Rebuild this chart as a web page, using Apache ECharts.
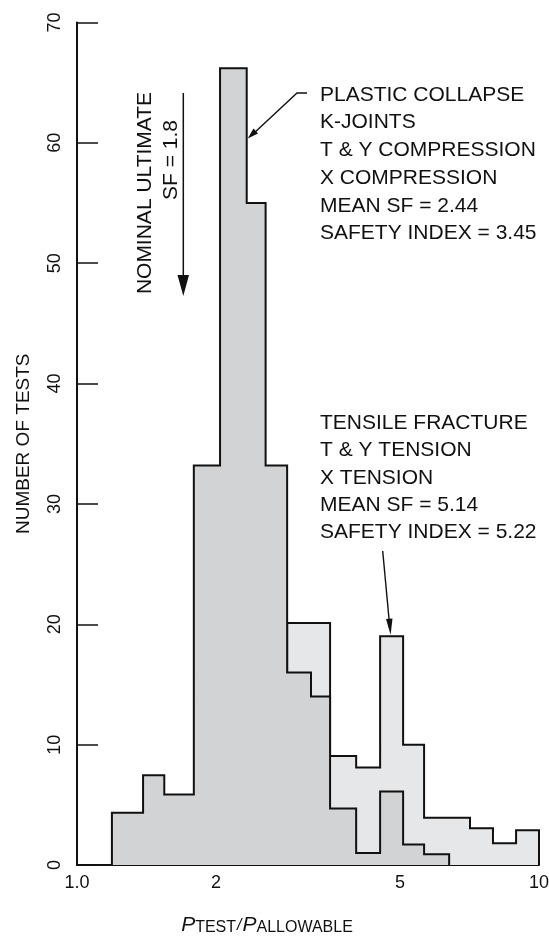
<!DOCTYPE html>
<html>
<head>
<meta charset="utf-8">
<script src="https://cdn.jsdelivr.net/npm/echarts@6/dist/echarts.min.js"></script>
<style>
  html, body { margin: 0; padding: 0; background: #fff; }
  #chart { width: 549px; height: 937px; }
</style>
</head>
<body>
<div id="chart"></div>
<script>
// Bin edges of P_test / P_allowable (log-spaced histogram)
var binEdges = [1.19, 1.39, 1.545, 1.79, 2.04, 2.33, 2.56, 2.85, 3.21, 3.53, 4.02, 4.53, 5.08, 5.64, 6.39, 7.09, 7.95, 8.92, 10];
// Plastic collapse: K-joints, T & Y compression, X compression (bins from the first edge)
var plasticCounts = [4.35, 7.45, 5.85, 33.2, 66.2, 55.0, 33.2, 16.0, 14.0, 4.7, 1.0, 6.1, 1.7, 0.9];
// Tensile fracture: T & Y tension, X tension (bins starting at edge index 7)
var tensileFirstBin = 7;
var tensileCounts = [20.1, 20.1, 9.05, 8.1, 19.0, 10.0, 3.93, 3.93, 3.05, 1.8, 2.88];
// Axis tick labels
var xTickValues = [1, 2, 5, 10];
var xTickLabels = ['1.0', '2', '5', '10'];

// Turn bin edges + counts into step-outline points
function stepPoints(edges, counts) {
  var pts = [[edges[0], 0]];
  for (var i = 0; i < counts.length; i++) pts.push([edges[i], counts[i]]);
  pts.push([edges[counts.length], 0]);
  return pts;
}

var chart = echarts.init(document.getElementById('chart'), null, { renderer: 'canvas' });
var FONT = 'Liberation Sans, Arial, Helvetica, sans-serif';
var ANN_FONT = '21px ' + FONT;

var ann1 = ['PLASTIC COLLAPSE', 'K-JOINTS', 'T & Y COMPRESSION', 'X COMPRESSION'];
var ann1b = ['MEAN SF = 2.44', 'SAFETY INDEX = 3.45'];
var ann2 = ['TENSILE FRACTURE', 'T & Y TENSION', 'X TENSION'];
var ann2b = ['MEAN SF = 5.14', 'SAFETY INDEX = 5.22'];

function textLines(lines, x, y0, step) {
  return lines.map(function (t, i) {
    return {
      type: 'text', silent: true, z: 10,
      style: { text: t, x: x, y: y0 + i * step, font: ANN_FONT, fill: '#111',
               textAlign: 'left', textVerticalAlign: 'middle' }
    };
  });
}

var graphics = []
  .concat(textLines(ann1, 320, 95, 27.7))
  .concat(textLines(ann1b, 320, 206, 27.7))
  .concat(textLines(ann2, 320, 423, 27.5))
  .concat(textLines(ann2b, 320, 505, 27.7));

// Rotated "nominal ultimate" note with downward arrow
graphics.push({
  type: 'text', silent: true, z: 10, x: 145, y: 193, rotation: Math.PI / 2,
  style: { text: 'NOMINAL ULTIMATE', font: ANN_FONT, fill: '#111', textAlign: 'center', textVerticalAlign: 'middle' }
});
graphics.push({
  type: 'text', silent: true, z: 10, x: 171, y: 160, rotation: Math.PI / 2,
  style: { text: 'SF = 1.8', font: ANN_FONT, fill: '#111', textAlign: 'center', textVerticalAlign: 'middle' }
});
graphics.push({
  type: 'line', silent: true, z: 10,
  shape: { x1: 183.3, y1: 93, x2: 183.3, y2: 280 }, style: { stroke: '#111', lineWidth: 1.5 }
});
graphics.push({
  type: 'polygon', silent: true, z: 10,
  shape: { points: [[177.5, 275], [189, 275], [183.3, 296]] }, style: { fill: '#111' }
});

// Leader to plastic collapse peak
graphics.push({
  type: 'polyline', silent: true, z: 10,
  shape: { points: [[307, 93], [297, 93], [253, 134]] }, style: { stroke: '#111', lineWidth: 1.4, fill: null }
});
graphics.push({
  type: 'polygon', silent: true, z: 10,
  shape: { points: [[247.7, 138.5], [253.5, 128.5], [258, 133.5]] }, style: { fill: '#111' }
});
// Leader to tensile fracture peak
graphics.push({
  type: 'line', silent: true, z: 10,
  shape: { x1: 382.7, y1: 551, x2: 389.3, y2: 622 }, style: { stroke: '#111', lineWidth: 1.4 }
});
graphics.push({
  type: 'polygon', silent: true, z: 10,
  shape: { points: [[390.6, 635], [386, 619], [392.5, 618.5]] }, style: { fill: '#111' }
});

var option = {
  animation: false,
  backgroundColor: '#fff',
  grid: { left: 77, right: 10, top: 22.5, bottom: 72, containLabel: false, outerBoundsMode: 'none' },
  xAxis: {
    type: 'log', logBase: 10, min: 1, max: 10,
    name: '{p|P}{s|TEST}{sl|/}{p|P}{s|ALLOWABLE}',
    nameLocation: 'middle', nameGap: 50,
    nameTextStyle: {
      padding: [0, 82, 0, 0],
      rich: {
        p: { fontFamily: FONT, fontSize: 21, fontStyle: 'italic', color: '#111' },
        s: { fontFamily: FONT, fontSize: 16, color: '#111', padding: [5, 0, 0, 0] },
        sl: { fontFamily: FONT, fontSize: 16, fontStyle: 'italic', color: '#111', padding: [0, 1, 0, 1] }
      }
    },
    axisLine: { show: true, onZero: false, lineStyle: { color: '#111', width: 2 } },
    axisTick: { show: true, inside: true, length: 9, customValues: [2, 5], lineStyle: { color: '#111', width: 1.5 } },
    minorTick: { show: false },
    splitLine: { show: false },
    axisLabel: {
      customValues: xTickValues,
      margin: 9,
      fontFamily: FONT, fontSize: 18, color: '#111',
      formatter: function (v) {
        for (var i = 0; i < xTickValues.length; i++) {
          if (Math.abs(xTickValues[i] - v) < 1e-6) return xTickLabels[i];
        }
        return '';
      }
    }
  },
  yAxis: {
    type: 'value', min: 0, max: 70, interval: 10,
    name: 'NUMBER OF TESTS', nameLocation: 'middle', nameGap: 44, nameRotate: 90,
    nameTextStyle: { fontFamily: FONT, fontSize: 19, color: '#111' },
    axisLine: { show: true, lineStyle: { color: '#111', width: 2 } },
    axisTick: { show: true, inside: true, length: 21, lineStyle: { color: '#111', width: 1.5 } },
    splitLine: { show: false },
    axisLabel: { rotate: 90, margin: 13, fontFamily: FONT, fontSize: 18, color: '#111' }
  },
  series: [
    {
      name: 'Tensile fracture', type: 'line', step: 'end', z: 2,
      data: stepPoints(binEdges.slice(tensileFirstBin), tensileCounts),
      symbol: 'none', showSymbol: false, silent: true, clip: false,
      lineStyle: { color: '#111', width: 2, join: 'miter' },
      areaStyle: { color: '#e6e7e9', opacity: 1 }
    },
    {
      name: 'Plastic collapse', type: 'line', step: 'end', z: 3,
      data: stepPoints(binEdges, plasticCounts),
      symbol: 'none', showSymbol: false, silent: true, clip: false,
      lineStyle: { color: '#111', width: 2, join: 'miter' },
      areaStyle: { color: '#d2d3d5', opacity: 1 }
    }
  ],
  graphic: graphics
};
chart.setOption(option);
</script>
</body>
</html>
